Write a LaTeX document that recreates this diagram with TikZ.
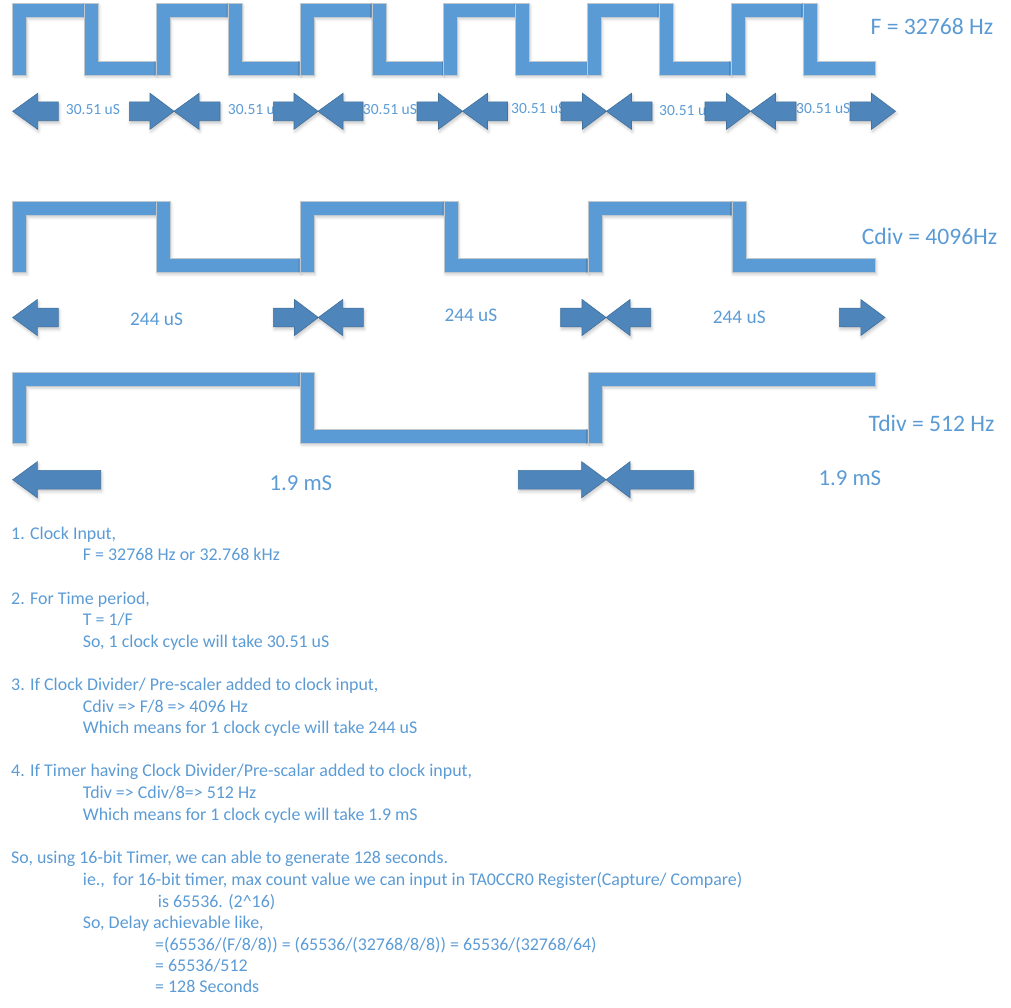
\documentclass[tikz,border=0pt]{standalone}
\usepackage{fontspec}
\setmainfont{Carlito}
\usetikzlibrary{shadows.blur}
\definecolor{wavefill}{HTML}{5B9BD5}
\definecolor{waveedge}{HTML}{BFC7CF}
\definecolor{arrfill}{HTML}{4E85BB}
\definecolor{arredge}{HTML}{41719C}
\definecolor{txt}{HTML}{5B9BD5}
\tikzset{
  wave/.style={fill=wavefill, draw=waveedge, line width=0.7pt, line join=miter,
    blur shadow={shadow xshift=1pt, shadow yshift=-2pt, shadow blur radius=2.5pt, shadow opacity=18}},
  blk/.style={fill=arrfill, draw=arredge, line width=0.6pt, line join=miter,
    blur shadow={shadow xshift=1pt, shadow yshift=-2.5pt, shadow blur radius=3pt, shadow opacity=22}},
  lbl/.style={text=txt, inner sep=0pt, anchor=base west},
}
% high segment (upper bar + left vertical)
\newcommand\wvHi[4]{%
  \path[wave] (#1,#2) -- ({#1+#3},#2) -- ({#1+#3},{#2+14}) -- ({#1+14},{#2+14})
    -- ({#1+14},{#2+#4}) -- (#1,{#2+#4}) -- cycle;}
% low segment (left vertical + lower bar)
\newcommand\wvLo[4]{%
  \path[wave] (#1,#2) -- ({#1+14},#2) -- ({#1+14},{#2+#4-14}) -- ({#1+#3},{#2+#4-14})
    -- ({#1+#3},{#2+#4}) -- (#1,{#2+#4}) -- cycle;}
% left-pointing block arrow: tip x, end x, centre y, head length
\newcommand\arL[4]{%
  \path[blk] (#1,#3) -- ({#1+#4},{#3-18}) -- ({#1+#4},{#3-9.4}) -- (#2,{#3-9.4})
    -- (#2,{#3+9.4}) -- ({#1+#4},{#3+9.4}) -- ({#1+#4},{#3+18}) -- cycle;}
% right-pointing block arrow: start x, tip x, centre y, head length
\newcommand\arR[4]{%
  \path[blk] (#2,#3) -- ({#2-#4},{#3-18}) -- ({#2-#4},{#3-9.4}) -- (#1,{#3-9.4})
    -- (#1,{#3+9.4}) -- ({#2-#4},{#3+9.4}) -- ({#2-#4},{#3+18}) -- cycle;}

\begin{document}
\begin{tikzpicture}[x=1pt,y=-1pt]
\useasboundingbox (0,0) rectangle (1011,1007);

% ---------- waveform F ----------
\foreach \k in {0,...,5}{
  \pgfmathsetmacro\xa{12.7+2*\k*71.85}
  \pgfmathsetmacro\xb{12.7+(2*\k+1)*71.85}
  \wvHi{\xa}{3.3}{71.85}{71.7}
  \wvLo{\xb}{3.3}{71.85}{71.7}
}
\node[lbl, font=\fontsize{23.6}{28}\selectfont] (fF) at (870.5,34.6) {F = 32768 Hz};

% labels row 1 (drawn below the arrows)
\begin{scope}[font=\fontsize{15.5}{18}\selectfont]
\node[lbl] (p1) at (65.7,114) {30.51 uS};
\node[lbl] (p2) at (227.7,114) {30.51 uS};
\node[lbl] (p3) at (362.7,114) {30.51 uS};
\node[lbl] (p4) at (511,113.3) {30.51 uS};
\node[lbl] (p5) at (659,115) {30.51 uS};
\node[lbl] (p6) at (796,113.3) {30.51 uS};
\end{scope}
\arL{12.7}{58.3}{111.3}{25}
\arR{129.3}{174}{111.3}{24}
\arL{174}{220}{111.3}{25}
\arR{273.3}{318}{111.3}{24}
\arL{318}{363}{111.3}{25}
\arR{417}{462.5}{111.3}{24}
\arL{462.5}{507.5}{111.3}{25}
\arR{561}{606.5}{111.3}{24}
\arL{606.5}{652}{111.3}{25}
\arR{705}{750.5}{111.3}{24}
\arL{750.5}{796}{111.3}{25}
\arR{850}{895.5}{111.3}{24}

% ---------- waveform Cdiv ----------
\foreach \k in {0,...,2}{
  \pgfmathsetmacro\xa{12.7+2*\k*143.85}
  \pgfmathsetmacro\xb{12.7+(2*\k+1)*143.85}
  \wvHi{\xa}{201.7}{143.85}{71}
  \wvLo{\xb}{201.7}{143.85}{71}
}
\node[lbl, font=\fontsize{23.6}{28}\selectfont] (fC) at (861.7,244.3) {Cdiv = 4096Hz};
\begin{scope}[font=\fontsize{19.3}{23}\selectfont]
\node[lbl] (q1) at (130,325.5) {244 uS};
\node[lbl] (q2) at (444.3,321.2) {244 uS};
\node[lbl] (q3) at (712.7,323.9) {244 uS};
\end{scope}
\arL{12.7}{58.3}{317.5}{24.6}
\arR{273.3}{318.3}{317.5}{23.8}
\arL{318.3}{363.3}{317.5}{24.4}
\arR{560.7}{606}{317.5}{24}
\arL{606}{650.7}{317.5}{24}
\arR{839.3}{885}{317.5}{24.2}

% ---------- waveform Tdiv ----------
\wvHi{12.7}{372.3}{287.7}{71}
\wvLo{300.4}{372.3}{287.7}{71}
\wvHi{588.1}{372.3}{287.7}{71}
\node[lbl, font=\fontsize{23.6}{28}\selectfont] (fT) at (868.3,431.9) {Tdiv = 512 Hz};
\begin{scope}[font=\fontsize{22.8}{27}\selectfont]
\node[lbl] (r1) at (269.3,490) {1.9 mS};
\node[lbl] (r2) at (818.3,485.6) {1.9 mS};
\end{scope}
\arL{12.7}{100.7}{479.7}{24.6}
\arR{518.3}{606}{479.7}{24.3}
\arL{606}{693.3}{479.7}{24}

% ---------- explanation text ----------
\begin{scope}[font=\fontsize{17.9}{21}\selectfont]
\node[lbl] (t0)  at (11,   539.3) {1. Clock Input,};
\node[lbl] (t1)  at (82.7, 560.9) {F = 32768 Hz or 32.768 kHz};
\node[lbl] (t3)  at (11,   604.1) {2. For Time period,};
\node[lbl] (t4)  at (82.7, 625.7) {T = 1/F};
\node[lbl] (t5)  at (82.7, 647.3) {So, 1 clock cycle will take 30.51 uS};
\node[lbl] (t7)  at (11,   690.5) {3. If Clock Divider/ Pre-scaler added to clock input,};
\node[lbl] (t8)  at (82.7, 712.1) {Cdiv => F/8 => 4096 Hz};
\node[lbl] (t9)  at (82.7, 733.7) {Which means for 1 clock cycle will take 244 uS};
\node[lbl] (t11) at (11,   776.9) {4. If Timer having Clock Divider/Pre-scalar added to clock input,};
\node[lbl] (t12) at (82.7, 798.5) {Tdiv => Cdiv/8=> 512 Hz};
\node[lbl] (t13) at (82.7, 820.1) {Which means for 1 clock cycle will take 1.9 mS};
\node[lbl] (t15) at (11,   863.6) {So, using 16-bit Timer, we can able to generate 128 seconds.};
\node[lbl] (t16) at (82.7, 885.0) {ie.,\ \ for 16-bit timer, max count value we can input in TA0CCR0 Register(Capture/ Compare)};
\node[lbl] (t17) at (157.7,907.2) {is 65536. (2\textasciicircum16)};
\node[lbl] (t18) at (82.7, 928.9) {So, Delay achievable like,};
\node[lbl] (t19) at (155,  950.2) {=(65536/(F/8/8)) = (65536/(32768/8/8)) = 65536/(32768/64)};
\node[lbl] (t20) at (155,  971.8) {= 65536/512};
\node[lbl] (t21) at (155,  992.8) {= 128 Seconds};
\end{scope}
\end{tikzpicture}
\end{document}
